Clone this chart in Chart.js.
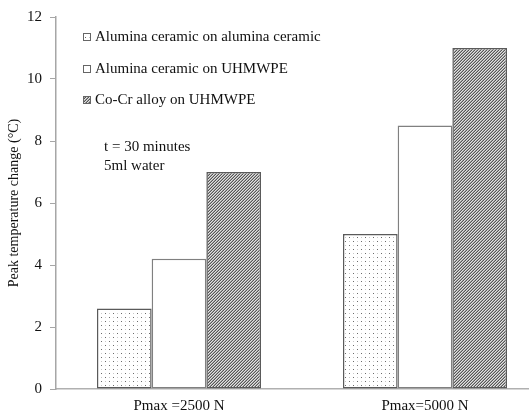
<!DOCTYPE html>
<html>
<head>
<meta charset="utf-8">
<script src="https://cdn.jsdelivr.net/npm/chart.js@4/dist/chart.umd.min.js"></script>
<style>
  html, body { margin: 0; padding: 0; background: #fff; overflow: hidden; }
  #wrap { position: relative; width: 548px; height: 416px; }
</style>
</head>
<body>
<div id="wrap"><canvas id="c"></canvas></div>
<script>
// Load cases on the x axis
const categories = ['Pmax =2500 N', 'Pmax=5000 N'];

// Bearing couples (one bar per couple in each load case)
const seriesLabels = [
  'Alumina ceramic on alumina ceramic',
  'Alumina ceramic on UHMWPE',
  'Co-Cr alloy on UHMWPE'
];

// Peak temperature change (°C)
const aluminaOnAlumina = [2.6, 5.0];
const aluminaOnUhmwpe  = [4.2, 8.5];
const cocrOnUhmwpe     = [7.0, 11.0];

// Test conditions shown inside the plot
const conditionLines = ['t = 30 minutes', '5ml water'];

const yTitle = 'Peak temperature change (\u00B0C)';

const SERIF = '"Liberation Serif", "Times New Roman", serif';

// --- fill patterns ---
function dotPattern() {
  const t = document.createElement('canvas');
  t.width = 8; t.height = 8;
  const g = t.getContext('2d');
  g.fillStyle = '#ffffff'; g.fillRect(0, 0, 8, 8);
  g.fillStyle = '#6a6a6a';
  g.fillRect(1, 1, 1, 1); g.fillRect(5, 5, 1, 1);
  g.fillStyle = '#c8c8c8';
  g.fillRect(5, 1, 1, 1); g.fillRect(1, 5, 1, 1);
  return g.createPattern(t, 'repeat');
}
function hatchPattern() {
  const t = document.createElement('canvas');
  t.width = 3; t.height = 3;
  const g = t.getContext('2d');
  const shades = ['#e2e2e2', '#a4a4a4', '#565656'];
  for (let y = 0; y < 3; y++) {
    for (let x = 0; x < 3; x++) {
      g.fillStyle = shades[(x + y) % 3];
      g.fillRect(x, y, 1, 1);
    }
  }
  return g.createPattern(t, 'repeat');
}

const fills = [dotPattern(), '#ffffff', hatchPattern()];
const borders = ['#5a5a5a', '#808080', '#5a5a5a'];
const values = [aluminaOnAlumina, aluminaOnUhmwpe, cocrOnUhmwpe];

const datasets = seriesLabels.map((label, i) => ({
  label,
  data: values[i],
  backgroundColor: fills[i],
  borderColor: borders[i],
  borderWidth: 1.5,
  borderSkipped: false,
  categoryPercentage: 0.667,
  barPercentage: 1.0
}));

// Legend and test-condition text drawn inside the plot area
const insideText = {
  id: 'insideText',
  afterDraw(chart) {
    const ctx = chart.ctx;
    ctx.save();
    ctx.font = '15px ' + SERIF;
    ctx.textBaseline = 'middle';
    const rows = [37, 69, 100];
    chart.data.datasets.forEach((ds, i) => {
      const y = rows[i];
      ctx.fillStyle = ds.backgroundColor;
      ctx.fillRect(83, y - 4, 8, 8);
      ctx.strokeStyle = '#666666';
      ctx.lineWidth = 1;
      ctx.strokeRect(83.5, y - 3.5, 7, 7);
      ctx.fillStyle = '#111111';
      ctx.fillText(ds.label, 95, y);
    });
    conditionLines.forEach((s, i) => {
      ctx.fillText(s, 104, 147 + i * 19);
    });
    ctx.restore();
  }
};

new Chart(document.getElementById('c'), {
  type: 'bar',
  data: { labels: categories, datasets },
  plugins: [insideText],
  options: {
    responsive: true,
    maintainAspectRatio: false,
    animation: false,
    layout: { padding: { top: 17, right: 0, left: 0, bottom: 0 } },
    plugins: {
      legend: { display: false },
      tooltip: { enabled: false }
    },
    scales: {
      x: {
        offset: true,
        grid: { display: false, drawTicks: false },
        border: { color: '#b0b0b0', width: 1.5 },
        ticks: {
          color: '#111111',
          font: { family: SERIF, size: 15 },
          padding: 8,
          maxRotation: 0
        },
        afterFit(s) { s.height = 27; }
      },
      y: {
        min: 0,
        max: 12,
        ticks: {
          stepSize: 2,
          color: '#111111',
          font: { family: SERIF, size: 15 },
          padding: 8
        },
        grid: {
          drawOnChartArea: false,
          drawTicks: true,
          tickLength: 6,
          color: '#a6a6a6'
        },
        border: { color: '#a6a6a6', width: 1.5 },
        title: {
          display: true,
          text: yTitle,
          color: '#111111',
          font: { family: SERIF, size: 14 },
          padding: { top: 6, bottom: 0 }
        },
        afterFit(s) { s.width = 56; }
      }
    }
  }
});
</script>
</body>
</html>
